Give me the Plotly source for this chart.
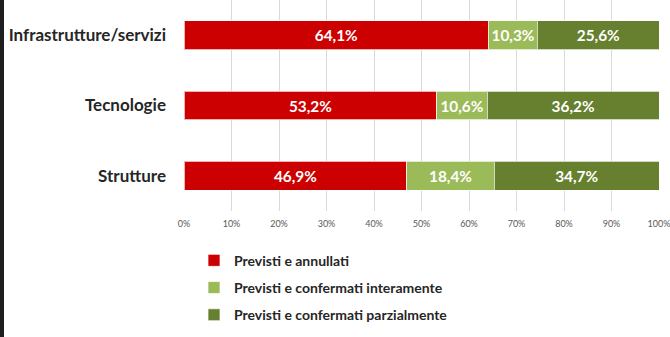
import plotly.graph_objects as go

# Categories (top to bottom) and the share of each outcome, in percent
categories = ["Infrastrutture/servizi", "Tecnologie", "Strutture"]
annullati = [64.1, 53.2, 46.9]
confermati_interamente = [10.3, 10.6, 18.4]
confermati_parzialmente = [25.6, 36.2, 34.7]

series_names = [
    "Previsti e annullati",
    "Previsti e confermati interamente",
    "Previsti e confermati parzialmente",
]
series_values = [annullati, confermati_interamente, confermati_parzialmente]
series_colors = ["#CC0000", "#9BBB59", "#66802F"]

x_ticks = list(range(0, 101, 10))
x_tick_labels = [f"{t}%" for t in x_ticks]

W, H = 670, 337
M_L, M_R, M_T, M_B = 184, 11, 0, 126

fig = go.Figure()
for i, (name, vals, col) in enumerate(zip(series_names, series_values, series_colors)):
    fig.add_trace(go.Bar(
        y=categories,
        x=vals,
        name=name,
        orientation="h",
        marker=dict(color=col, line=dict(color="rgba(255,255,255,0.7)", width=1)),
        width=0.41,
        texttemplate="%{x:.1f}%",
        textposition="inside",
        insidetextanchor="middle",
        textfont=dict(family="Lato", size=16, color="white", weight="bold"),
        legendgroup=f"g{i}",
        hoverinfo="skip",
    ))

fig.update_layout(
    width=W, height=H,
    barmode="stack",
    separators=",.",
    margin=dict(l=M_L, r=M_R, t=M_T, b=M_B, pad=0),
    paper_bgcolor="white",
    plot_bgcolor="white",
    font=dict(family="Lato", color="#262626"),
    uniformtext=dict(minsize=15, mode="show"),
    showlegend=True,
    legend=dict(
        orientation="v",
        x=(194 - M_L) / (W - M_L - M_R), xanchor="left",
        y=-0.16, yanchor="top",
        font=dict(family="Lato", size=14, color="#262626", weight="bold"),
        tracegroupgap=6,
        traceorder="grouped",
        bgcolor="rgba(0,0,0,0)",
    ),
    xaxis=dict(
        range=[0, 100],
        tickmode="array",
        tickvals=x_ticks,
        ticktext=x_tick_labels,
        showgrid=True,
        gridcolor="#D9D9D9",
        gridwidth=1,
        zeroline=False,
        showline=False,
        ticks="",
        tickfont=dict(family="Lato", size=9, color="#595959"),
        ticklabelstandoff=6,
        ticklabeloverflow="allow",
        fixedrange=True,
    ),
    yaxis=dict(
        categoryorder="array",
        categoryarray=categories,
        autorange="reversed",
        showgrid=False,
        showline=False,
        zeroline=False,
        ticks="",
        ticklabelstandoff=17,
        tickfont=dict(family="Lato", size=17, color="#262626", weight="bold"),
        fixedrange=True,
    ),
)

# Dark frame edge along the left side of the page
plot_w = W - M_L - M_R
plot_h = H - M_T - M_B
fig.add_shape(
    type="rect", xref="paper", yref="paper",
    x0=(0 - M_L) / plot_w, x1=(4 - M_L) / plot_w,
    y0=-(M_B + 5) / plot_h, y1=1 + (M_T + 5) / plot_h,
    fillcolor="#1E1E1E", line=dict(width=0), layer="above",
)

fig.write_html("out.html", config={"displayModeBar": False, "staticPlot": True})
